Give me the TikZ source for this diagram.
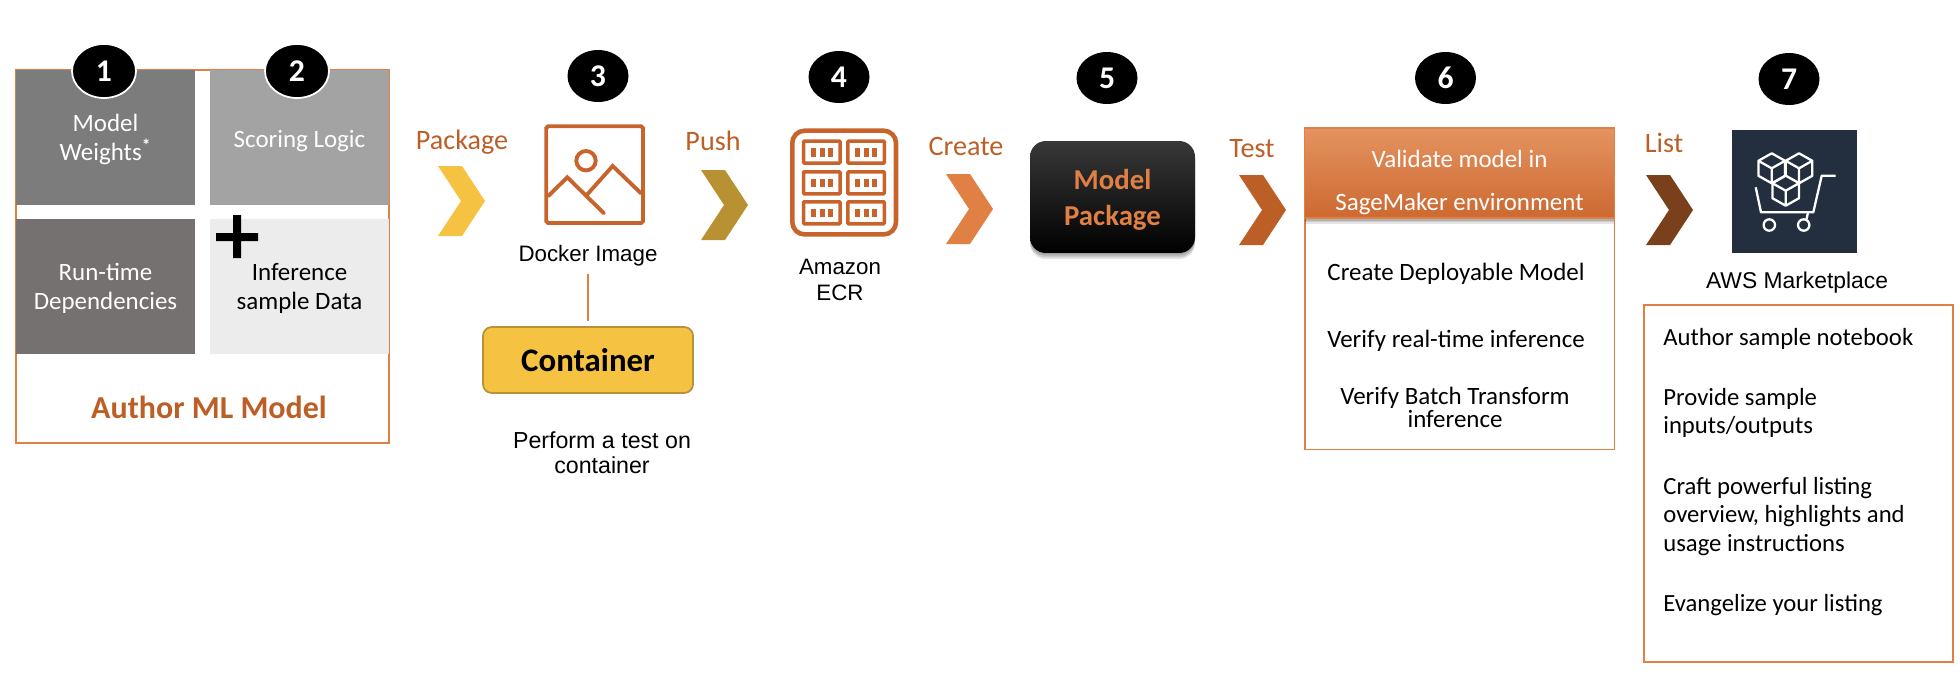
\documentclass[tikz,border=0pt]{standalone}
\usepackage{fontspec}
\setmainfont{Carlito}
\newfontfamily\armo{Liberation Sans}
\usepackage{xcolor}
\usetikzlibrary{arrows.meta,positioning,shapes,calc,shadows}
\definecolor{awsorange}{RGB}{224,128,68}
\definecolor{rustorange}{RGB}{188,95,39}
\definecolor{iconorange}{RGB}{200,99,44}
\definecolor{gold}{RGB}{245,194,66}
\definecolor{golddark}{RGB}{184,146,58}
\definecolor{olivegold}{RGB}{184,146,50}
\definecolor{brownrust}{RGB}{122,63,27}
\definecolor{midgray}{RGB}{124,124,124}
\definecolor{lightgray}{RGB}{163,163,163}
\definecolor{warmgray}{RGB}{117,113,112}
\definecolor{palegray}{RGB}{236,236,236}
\definecolor{awsnavy}{RGB}{35,47,62}
\tikzset{
  % tile of the author box
  tile/.style={minimum width=3.58cm, minimum height=2.7cm, inner sep=0pt},
  tilelab/.style={inner sep=0pt, align=center, text=white, font=\fontsize{14.2}{16.5}\selectfont},
  % numbered badge
  badge/.style={ellipse, fill=black, minimum width=1.22cm, minimum height=1.04cm, inner sep=0pt,
    text=white, font=\fontsize{18}{18}\selectfont\bfseries},
  % orange verb above a chevron
  verb/.style={inner sep=0pt, text=rustorange, font=\fontsize{16}{18}\selectfont},
  % black caption in Arial
  capt/.style={inner sep=0pt, align=center, font=\armo\fontsize{12.7}{14.9}\selectfont},
  % text in the check lists
  item/.style={inner sep=0pt, align=center, font=\fontsize{14.2}{13.1}\selectfont},
  listitem/.style={inner sep=0pt, anchor=west, align=left, font=\fontsize{14.05}{16.4}\selectfont},
  frame/.style={draw=awsorange, line width=1.1pt, inner sep=0pt},
  icon/.style={draw=iconorange, line width=2.2pt},
  cartline/.style={draw=white, line width=1.3pt, line join=round},
  % soft shadow below a box
  softshadow/.style={
    general shadow={shadow yshift=-.5pt, opacity=.12, fill=black},
    general shadow={shadow yshift=-1.5pt, opacity=.12, fill=black},
    general shadow={shadow yshift=-2.5pt, opacity=.12, fill=black},
    general shadow={shadow yshift=-3.5pt, opacity=.10, fill=black}},
}
\begin{document}
\begin{tikzpicture}[x=0.02cm, y=-0.02cm]
    \useasboundingbox (0,0) rectangle (1960,680);

    % Author ML Model
    \node[frame, minimum width=7.46cm, minimum height=7.46cm] (author) at (202.5,256.5) {};
    \node[tile, fill=midgray, label={[tilelab, yshift=-1pt]center:Model\\Weights\textsuperscript{\textbf{*}}}] (weights) at (105.5,137.5) {};
    \node[tile, fill=lightgray, label={[tilelab, yshift=-2pt]center:Scoring Logic}] (scoring) at (299.5,137.5) {};
    \node[tile, fill=warmgray, label={[tilelab, yshift=-1.2pt]center:Run-time\\Dependencies}] (runtime) at (105.5,286.5) {};
    \node[tile, fill=palegray, label={[tilelab, yshift=-1.2pt, text=black]center:Inference\\sample Data}] (inference) at (299.5,286.5) {};
    \node[inner sep=0pt, text=rustorange, font=\fontsize{18.2}{20}\selectfont\bfseries] (authorlab) at (209,407) {Author ML Model};
    \fill[black] (233,215) rectangle (241,258) (216,233) rectangle (258,241);
    \node[badge, draw=white, line width=1pt, minimum width=1.28cm, minimum height=1.08cm] (b1) at (104,71) {1};
    \node[badge, draw=white, line width=1pt, minimum width=1.28cm, minimum height=1.08cm] (b2) at (297,71) {2};

    % chevrons between the steps
    \foreach \x/\y/\c in {438/166/gold, 701/170/olivegold, 946/174/awsorange, 1239/175/rustorange, 1646/175/brownrust}{
        \fill[\c, shift={(\x,\y)}] (0,0) -- (24,0) -- (47,35) -- (24,70) -- (0,70) -- (23,35) -- cycle;
    }
    \node[verb] (package) at (462,142) {Package};
    \node[verb] (push) at (713,141) {Push};
    \node[verb] (create) at (966,146) {Create};
    \node[verb] (test) at (1252,149) {Test};
    \node[verb] (list) at (1664,143) {List};

    % Docker image
    \node[badge] (b3) at (598,76) {3};
    \draw[icon, rounded corners=1pt] (546.3,126.3) rectangle (643,223);
    \draw[icon] (586,160.7) circle (9.7);
    \draw[icon, line cap=round] (548.3,196) -- (567.3,177.3) -- (604,213.3);
    \draw[icon, line cap=round] (586.7,195) -- (612.7,166) -- (641,193.3);
    \node[capt] (docker) at (588,256) {Docker Image};
    \node[draw=golddark, line width=1pt, fill=gold, rounded corners=5pt, minimum width=4.2cm, minimum height=1.32cm,
        inner sep=0pt, font=\fontsize{18.7}{20}\selectfont\bfseries] (container) at (588,360) {Container};
    \draw[awsorange, line width=1.2pt, shorten <=4pt, shorten >=3pt] (docker.south) -- (container.north);
    \node[capt, font=\armo\fontsize{13.2}{14.2}\selectfont] (perform) at (602,453) {Perform a test on\\container};

    % Amazon ECR
    \node[badge] (b4) at (839,77) {4};
    \draw[icon, line width=2.6pt, rounded corners=7pt] (792.3,130.7) rectangle (896,234.4);
    \foreach \cx in {803.5,847.8}{
        \foreach \cy in {141.1,171.8,201.8}{
            \draw[iconorange, line width=2pt, rounded corners=.5pt] (\cx,\cy) rectangle ++(36.5,22);
            \foreach \bx in {7.5,16,24.5}{
                \fill[iconorange] ($(\cx,\cy)+(\bx,7)$) rectangle ++(5,8.4);
            }
        }
    }
    \node[capt] (ecr) at (840,280) {Amazon\\ECR};

    % Model package
    \node[badge] (b5) at (1107,78) {5};
    \node[rounded corners=9pt, top color=black!78, middle color=black, bottom color=black, softshadow,
        minimum width=3.3cm, minimum height=2.24cm, inner sep=0pt,
        label={[inner sep=0pt, align=center, text=awsorange, yshift=-1.4pt, font=\fontsize{16.4}{20.4}\selectfont\bfseries]center:Model\\Package}] (pkg) at (1112.5,197) {};

    % SageMaker validation
    \node[badge] (b6) at (1445.5,78) {6};
    \node[frame, minimum width=6.2cm, minimum height=4.63cm] (checks) at (1459.5,333.75) {};
    \node[draw=awsorange, line width=.8pt, top color=awsorange!85!white, middle color=awsorange!95!orange, bottom color=iconorange!80!awsorange, softshadow,
        minimum width=6.2cm, minimum height=1.8cm, inner sep=0pt,
        label={[inner sep=0pt, align=center, text=white, yshift=-5.4pt, font=\fontsize{14.2}{24.8}\selectfont]center:Validate model in\\SageMaker environment}] (validate) at (1459.5,173) {};
    \node[item] (deploy) at (1456,274) {Create Deployable Model};
    \node[item] (realtime) at (1456,341) {Verify real-time inference};
    \node[item] (batch) at (1455,407) {Verify Batch Transform\\inference};

    % AWS Marketplace
    \node[badge] (b7) at (1789,79) {7};
    \fill[awsnavy] (1732,130) rectangle (1857,253);
    \foreach \hx/\hy in {1771.7/168.3,1799/168.3,1785.7/190.7}{
        \draw[cartline, fill=awsnavy, shift={(\hx,\hy)}]
            (0,-15) -- (13.3,-7.5) -- (13.3,7.5) -- (0,15) -- (-13.3,7.5) -- (-13.3,-7.5) -- cycle
            (-13.3,-7.5) -- (0,0) -- (13.3,-7.5) (0,0) -- (0,15);
    }
    \draw[cartline] (1835.7,175.7) -- (1821.7,175.7) -- (1813.3,212.3) -- (1761,212.3) -- (1755.7,187.3);
    \draw[cartline] (1808,212.3) -- (1806.5,219.5);
    \draw[cartline] (1769.3,225) circle (5.7) (1803.7,225) circle (5.7);
    \node[capt, font=\armo\fontsize{13}{15}\selectfont] (market) at (1797,283) {AWS Marketplace};
    \node[frame, minimum width=6.18cm, minimum height=7.14cm] (tasks) at (1798.5,483.5) {};
    \node[listitem] (notebook) at (1663,339) {Author sample notebook};
    \node[listitem] (samples) at (1663,413) {Provide sample\\inputs/outputs};
    \node[listitem] (craft) at (1663,516.5) {Craft powerful listing\\overview, highlights and\\usage instructions};
    \node[listitem] (evangelize) at (1663,605) {Evangelize your listing};
\end{tikzpicture}
\end{document}
